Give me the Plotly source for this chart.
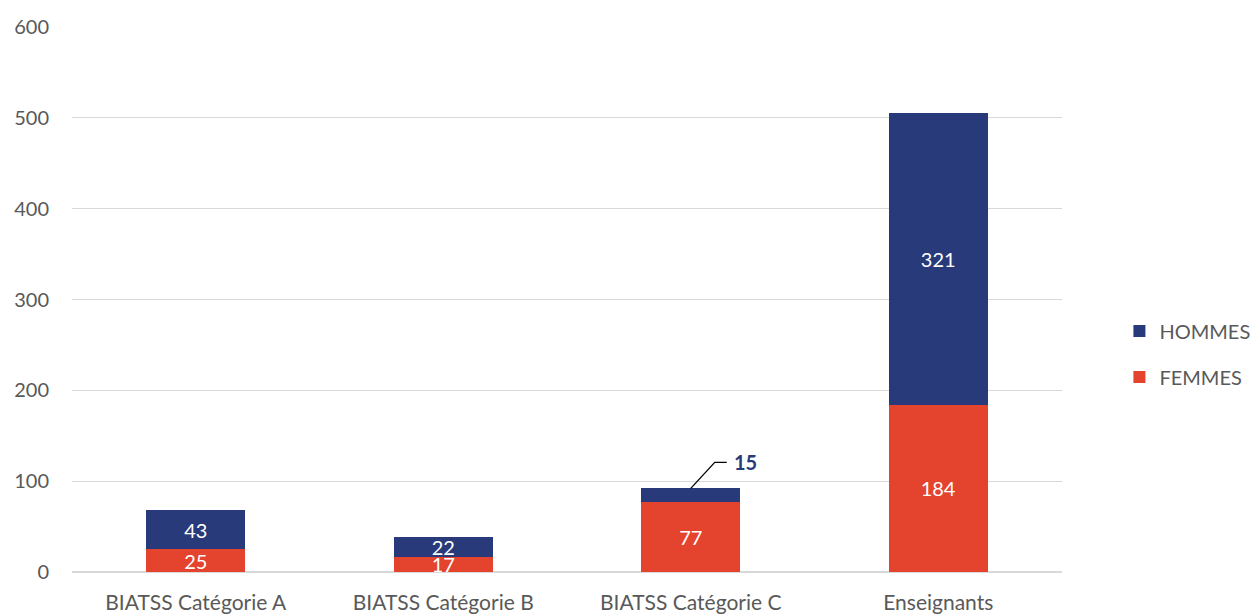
import plotly.graph_objects as go

categories = ["BIATSS Catégorie A", "BIATSS Catégorie B", "BIATSS Catégorie C", "Enseignants"]
femmes = [25, 17, 77, 184]
hommes = [43, 22, 15, 321]
y_ticks = [0, 100, 200, 300, 400, 500, 600]

RED = "#E4432E"
NAVY = "#283A7A"
GRAY = "#595959"
FONT = "Lato, Open Sans, sans-serif"

# callout for the small HOMMES segment
callout_idx = 2
hommes_text = [str(v) if i != callout_idx else "" for i, v in enumerate(hommes)]

fig = go.Figure()
fig.add_trace(go.Bar(
    name="FEMMES", x=categories, y=femmes, marker_color=RED,
    marker_line_width=0, width=0.4,
    text=[str(v) for v in femmes], textposition="inside", insidetextanchor="middle",
    textangle=0,
    textfont=dict(color="white", size=20, family=FONT), constraintext="none",
    legendgroup="f", legendrank=2,
))
fig.add_trace(go.Bar(
    name="HOMMES", x=categories, y=hommes, marker_color=NAVY,
    marker_line_width=0, width=0.4,
    text=hommes_text, textposition="inside", insidetextanchor="middle",
    textangle=0,
    textfont=dict(color="white", size=20, family=FONT), constraintext="none",
    legendgroup="h", legendrank=1,
))

top_c = femmes[callout_idx] + hommes[callout_idx]
fig.add_shape(
    type="path", xref="x", yref="y", xsizemode="pixel", ysizemode="pixel",
    xanchor=categories[callout_idx], yanchor=top_c,
    path="M 0 0 L 24 26 L 36 26",
    line=dict(color="black", width=1.3),
)
fig.add_annotation(
    x=categories[callout_idx], y=top_c, xref="x", yref="y",
    text="<b>%d</b>" % hommes[callout_idx], showarrow=False,
    xshift=55, yshift=26, font=dict(color=NAVY, size=20, family=FONT),
)

fig.update_layout(
    barmode="stack",
    width=1257, height=615,
    margin=dict(l=72, r=195, t=27, b=43, autoexpand=False),
    plot_bgcolor="white", paper_bgcolor="white",
    font=dict(family=FONT, color=GRAY, size=20),
    showlegend=True,
    legend=dict(
        x=1.058, y=0.40, xanchor="left", yanchor="middle",
        traceorder="grouped", tracegroupgap=17,
        font=dict(size=20, color=GRAY, family=FONT),
        itemwidth=30,
    ),
    xaxis=dict(showline=False, ticks="", automargin=False,
               tickfont=dict(size=21, color=GRAY), ticklabelstandoff=16),
    yaxis=dict(
        range=[0, 600], tickvals=y_ticks, showgrid=True, gridcolor="#D9D9D9",
        gridwidth=1, zeroline=True, zerolinecolor="#D9D9D9", zerolinewidth=1.5,
        showline=False, ticks="", automargin=False,
        tickfont=dict(size=20, color=GRAY),
        ticklabelstandoff=22,
    ),
)

fig.write_html("out.html", config={"displayModeBar": False},
               post_script="document.body.style.margin='0';")
